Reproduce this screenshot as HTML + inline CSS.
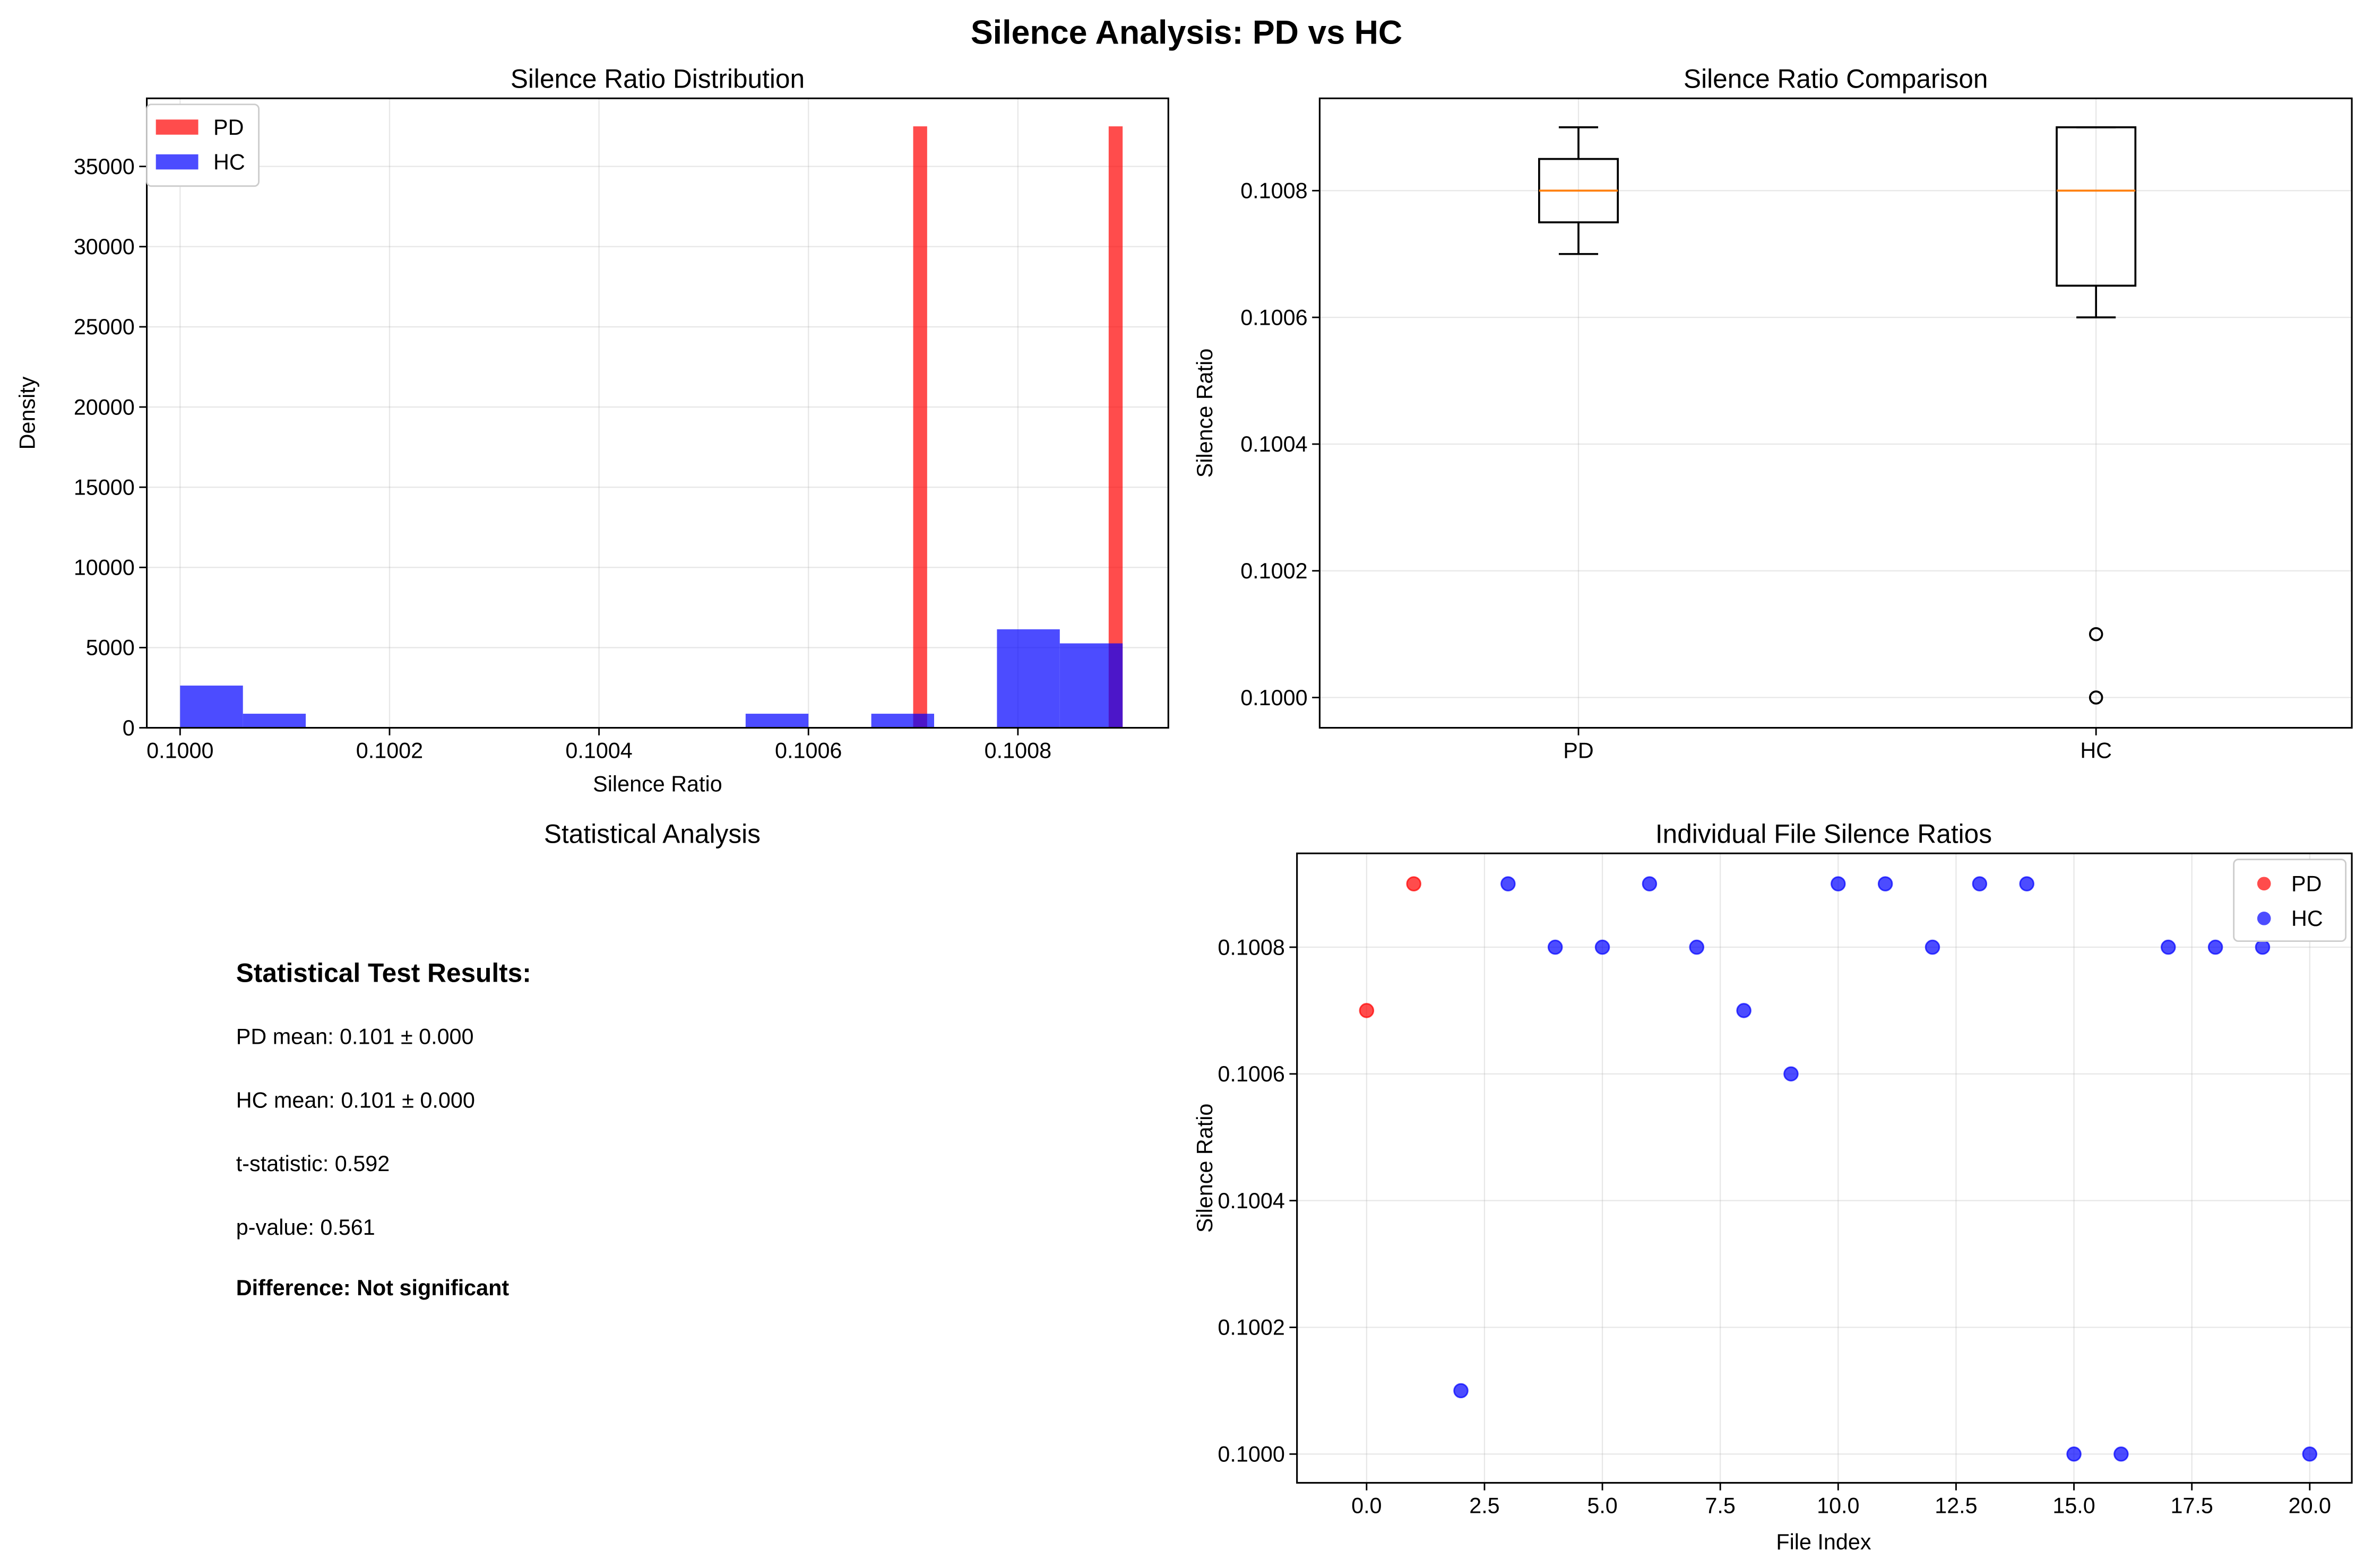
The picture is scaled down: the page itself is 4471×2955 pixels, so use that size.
<!DOCTYPE html>
<html><head><meta charset="utf-8"><style>
html,body{margin:0;padding:0;background:#fff}
svg{display:block;font-family:"Liberation Sans","DejaVu Sans",sans-serif}
</style></head><body>
<svg id="fig" width="4471" height="2955" viewBox="0 0 1568 1036.3" preserveAspectRatio="none" xmlns="http://www.w3.org/2000/svg">
<rect width="1568" height="1036.3" fill="#fff"/>
<text x="784" y="29" text-anchor="middle" font-size="22" font-weight="bold">Silence Analysis: PD vs HC</text>
<g id="p1"></g><g id="p2"></g><g id="p3"></g><g id="p4"></g>
</svg>
<script>
// ---- data ----
const pdValues = [0.1007, 0.1009];
const hcValues = [0.1001,0.1009,0.1008,0.1008,0.1009,0.1008,0.1007,0.1006,0.1009,0.1009,0.1008,0.1009,0.1009,0.1000,0.1000,0.1008,0.1008,0.1008,0.1000];
const groupLabels = ["PD","HC"];
const histYTicks = [0,5000,10000,15000,20000,25000,30000,35000];
const histXTicks = [0.1000,0.1002,0.1004,0.1006,0.1008];
const ratioTicks = [0.1000,0.1002,0.1004,0.1006,0.1008];
const indexTicks = [0,2.5,5,7.5,10,12.5,15,17.5,20];
const statLines = ["PD mean: 0.101 ± 0.000","HC mean: 0.101 ± 0.000","t-statistic: 0.592","p-value: 0.561"];

const NS="http://www.w3.org/2000/svg";
function mk(parent,tag,attrs,text){const e=document.createElementNS(NS,tag);for(const k in attrs)e.setAttribute(k,attrs[k]);if(text!==undefined)e.textContent=text;parent.appendChild(e);return e;}
const FS=14.5, TS=17.4;

function frame(g,x0,y0,x1,y1){
  mk(g,'rect',{x:x0,y:y0,width:x1-x0,height:y1-y0,fill:'none',stroke:'#000','stroke-width':1.1});
}
function xTick(g,x,y,lab){
  const l=mk(g,'line',{x1:x,x2:x,y1:y,y2:y+5,stroke:'#000','stroke-width':1});
  
  
  const t=mk(g,'text',{x:x,y:y+20,'text-anchor':'middle','font-size':FS},lab);
  
  
}
function yTick(g,x,y,lab){
  mk(g,'line',{x1:x-5,x2:x,y1:y,y2:y,stroke:'#000','stroke-width':1});
  const t=mk(g,'text',{x:x-8,y:y+5,'text-anchor':'end','font-size':FS},lab);
  
  
}
function grid(g,x1,y1,x2,y2){mk(g,'line',{x1,y1,x2,y2,stroke:'#b0b0b0','stroke-opacity':0.3,'stroke-width':0.8});}

// ---- panel 1: histogram ----
(function(){
  const g=document.getElementById('p1');
  
  
  const X0=97,X1=772,Y0=65,Y1=481;
  const xs=v=>119+(v-0.1)/0.0002*138.4;
  const ys=v=>481-v/5000*53;
  histXTicks.forEach(v=>grid(g,xs(v),Y0,xs(v),Y1));
  histYTicks.forEach(v=>grid(g,X0,ys(v),X1,ys(v)));
  function hist(vals,bins,color,name){
    const lo=Math.min(...vals),hi=Math.max(...vals),w=(hi-lo)/bins;
    const counts=new Array(bins).fill(0);
    vals.forEach(v=>{let i=Math.floor((v-lo)/w);if(i>=bins)i=bins-1;counts[i]++;});
    counts.forEach((c,i)=>{if(!c)return;const d=c/(vals.length*w);
      const r=mk(g,'rect',{x:xs(lo+i*w),y:ys(d),width:xs(lo+(i+1)*w)-xs(lo+i*w),height:ys(0)-ys(d),fill:color,'fill-opacity':0.7});
      
      });
  }
  hist(pdValues,15,'#ff0000','pd');
  hist(hcValues,15,'#0000ff','hc');
  frame(g,X0,Y0,X1,Y1);
  histXTicks.forEach(v=>xTick(g,xs(v),Y1,v.toFixed(4)));
  histYTicks.forEach(v=>yTick(g,X0,ys(v),String(v)));
  mk(g,'text',{x:434.5,y:58,'text-anchor':'middle','font-size':TS},'Silence Ratio Distribution');
  mk(g,'text',{x:434.5,y:523,'text-anchor':'middle','font-size':FS},'Silence Ratio');
  mk(g,'text',{x:0,y:0,'text-anchor':'middle','font-size':FS,transform:'translate(23,273) rotate(-90)'},'Density');
  const lg=mk(g,'g',{});
  
  
  mk(lg,'rect',{x:97,y:69,width:74,height:54,fill:'#fff',stroke:'#ccc',rx:3});
  mk(lg,'rect',{x:103,y:79,width:28,height:10,fill:'#ff0000','fill-opacity':0.7});
  mk(lg,'text',{x:141,y:89,'font-size':FS},'PD');
  mk(lg,'rect',{x:103,y:102,width:28,height:10,fill:'#0000ff','fill-opacity':0.7});
  mk(lg,'text',{x:141,y:112,'font-size':FS},'HC');
})();

// ---- panel 2: boxplot ----
function quant(a,q){const s=[...a].sort((x,y)=>x-y);const p=(s.length-1)*q,i=Math.floor(p);return i+1<s.length?s[i]+(s[i+1]-s[i])*(p-i):s[i];}
(function(){
  const g=document.getElementById('p2');
  
  
  const X0=872,X1=1554,Y0=65,Y1=481;
  const ys=v=>461-(v-0.1)/0.0002*83.75;
  const xs=i=>1043+i*342;
  ratioTicks.forEach(v=>grid(g,X0,ys(v),X1,ys(v)));
  [0,1].forEach(i=>grid(g,xs(i),Y0,xs(i),Y1));
  [pdValues,hcValues].forEach((vals,i)=>{
    const q1=quant(vals,0.25),q3=quant(vals,0.75),med=quant(vals,0.5),iqr=q3-q1;
    const inl=vals.filter(v=>v>=q1-1.5*iqr-1e-12&&v<=q3+1.5*iqr+1e-12);
    const lo=Math.min(...inl),hi=Math.max(...inl),x=xs(i),hw=26,cw=13;
    const bg=mk(g,'g',{});
    
    
    const st={stroke:'#000','stroke-width':1.3,fill:'none'};
    mk(bg,'line',Object.assign({x1:x,x2:x,y1:ys(q3),y2:ys(hi)},st));
    mk(bg,'line',Object.assign({x1:x,x2:x,y1:ys(q1),y2:ys(lo)},st));
    mk(bg,'line',Object.assign({x1:x-cw,x2:x+cw,y1:ys(hi),y2:ys(hi)},st));
    mk(bg,'line',Object.assign({x1:x-cw,x2:x+cw,y1:ys(lo),y2:ys(lo)},st));
    mk(bg,'rect',Object.assign({x:x-hw,y:ys(q3),width:2*hw,height:ys(q1)-ys(q3)},st));
    mk(bg,'line',{x1:x-hw,x2:x+hw,y1:ys(med),y2:ys(med),stroke:'#ff7f0e','stroke-width':1.3});
    const seen={};
    vals.filter(v=>!inl.includes(v)).forEach(v=>{if(seen[v])return;seen[v]=1;
      const c=mk(bg,'circle',{cx:x,cy:ys(v),r:4,fill:'none',stroke:'#000','stroke-width':1.3});
      
      });
  });
  frame(g,X0,Y0,X1,Y1);
  [0,1].forEach(i=>xTick(g,xs(i),Y1,groupLabels[i]));
  ratioTicks.forEach(v=>yTick(g,X0,ys(v),v.toFixed(4)));
  mk(g,'text',{x:1213,y:58,'text-anchor':'middle','font-size':TS},'Silence Ratio Comparison');
  mk(g,'text',{x:0,y:0,'text-anchor':'middle','font-size':FS,transform:'translate(801,273) rotate(-90)'},'Silence Ratio');
})();

// ---- panel 3: stats text ----
(function(){
  const g=document.getElementById('p3');
  
  
  mk(g,'text',{x:431,y:557,'text-anchor':'middle','font-size':TS},'Statistical Analysis');
  mk(g,'text',{x:156,y:649,'font-size':TS,'font-weight':'bold'},'Statistical Test Results:');
  statLines.forEach((s,i)=>mk(g,'text',{x:156,y:690+i*42,'font-size':FS},s));
  mk(g,'text',{x:156,y:856,'font-size':FS,'font-weight':'bold'},'Difference: Not significant');
})();

// ---- panel 4: scatter ----
(function(){
  const g=document.getElementById('p4');
  
  
  const X0=857,X1=1554,Y0=564,Y1=980;
  const ys=v=>961-(v-0.1)/0.0002*83.75;
  const xs=v=>903+v/2.5*77.9;
  ratioTicks.forEach(v=>grid(g,X0,ys(v),X1,ys(v)));
  indexTicks.forEach(v=>grid(g,xs(v),Y0,xs(v),Y1));
  pdValues.forEach((v,i)=>{const c=mk(g,'circle',{cx:xs(i),cy:ys(v),r:4.5,fill:'#ff0000','fill-opacity':0.7,stroke:'#ff0000','stroke-opacity':0.7});
    
    });
  hcValues.forEach((v,i)=>{const c=mk(g,'circle',{cx:xs(i+pdValues.length),cy:ys(v),r:4.5,fill:'#0000ff','fill-opacity':0.7,stroke:'#0000ff','stroke-opacity':0.7});
    
    });
  frame(g,X0,Y0,X1,Y1);
  indexTicks.forEach(v=>xTick(g,xs(v),Y1,v.toFixed(1)));
  ratioTicks.forEach(v=>yTick(g,X0,ys(v),v.toFixed(4)));
  mk(g,'text',{x:1205,y:557,'text-anchor':'middle','font-size':TS},'Individual File Silence Ratios');
  mk(g,'text',{x:1205,y:1024,'text-anchor':'middle','font-size':FS},'File Index');
  mk(g,'text',{x:0,y:0,'text-anchor':'middle','font-size':FS,transform:'translate(801,772) rotate(-90)'},'Silence Ratio');
  const lg=mk(g,'g',{});
  
  
  mk(lg,'rect',{x:1476,y:568,width:74,height:54,fill:'#fff',stroke:'#ccc',rx:3});
  mk(lg,'circle',{cx:1496,cy:584,r:4.5,fill:'#ff0000','fill-opacity':0.7});
  mk(lg,'text',{x:1514,y:589,'font-size':FS},'PD');
  mk(lg,'circle',{cx:1496,cy:607,r:4.5,fill:'#0000ff','fill-opacity':0.7});
  mk(lg,'text',{x:1514,y:612,'font-size':FS},'HC');
})();
</script>
</body></html>
